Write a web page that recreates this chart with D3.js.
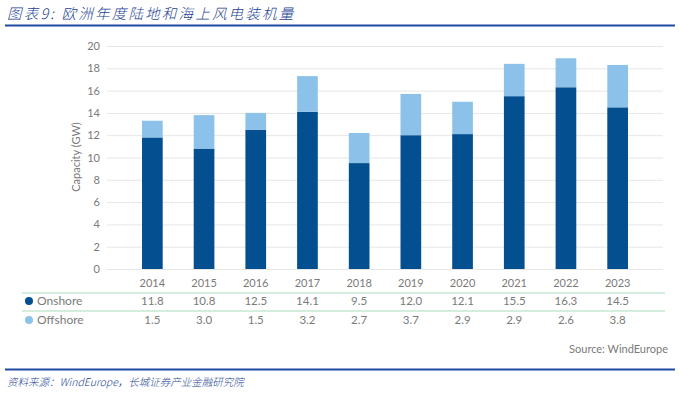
<!DOCTYPE html>
<html>
<head>
<meta charset="utf-8">
<script src="https://cdn.jsdelivr.net/npm/d3@7"></script>
<style>
  body { margin: 0; background: #fff; }
  svg { display: block; }
</style>
</head>
<body>
<svg id="chart" width="679" height="396"></svg>
<script>
// data
var years = ['2014', '2015', '2016', '2017', '2018', '2019', '2020', '2021', '2022', '2023'];
var onshore = [11.8, 10.8, 12.5, 14.1, 9.5, 12.0, 12.1, 15.5, 16.3, 14.5];
var offshore = [1.5, 3.0, 1.5, 3.2, 2.7, 3.7, 2.9, 2.9, 2.6, 3.8];
var yTicks = [0, 2, 4, 6, 8, 10, 12, 14, 16, 18, 20];
var seriesNames = ['Onshore', 'Offshore'];

var darkBlue = '#034f8f', lightBlue = '#8cc2ea', grey = '#7a7a7a', navy = '#1c3f94';
var latin = 'Lato, "Open Sans", sans-serif';

var svg = d3.select('#chart');

// header
svg.append('text')
  .attr('x', 7).attr('y', 19)
  .attr('font-family', '"Noto Sans CJK SC", sans-serif')
  .attr('font-style', 'italic')
  .attr('font-weight', 300)
  .attr('font-size', 14.5)
  .attr('letter-spacing', 2.2)
  .attr('fill', navy)
  .text('图表9:  欧洲年度陆地和海上风电装机量');
svg.append('line')
  .attr('x1', 5).attr('x2', 675).attr('y1', 25.5).attr('y2', 25.5)
  .attr('stroke', '#1e4ba0').attr('stroke-width', 2);

var x = d3.scaleBand().domain(years).range([111, 659]).padding(0.6);
var y = d3.scaleLinear().domain([0, 20]).range([269, 46]);

// grid + y axis
var yAxis = svg.append('g')
  .attr('transform', 'translate(107,0)')
  .call(d3.axisLeft(y).tickValues(yTicks).tickSize(-556).tickPadding(7));
yAxis.select('.domain').remove();
yAxis.selectAll('.tick line').attr('stroke', '#e6e6e6');
yAxis.selectAll('.tick text')
  .attr('font-family', latin).attr('font-size', 11).attr('fill', grey);

svg.append('text')
  .attr('transform', 'translate(80,157) rotate(-90)')
  .attr('text-anchor', 'middle')
  .attr('font-family', latin).attr('font-size', 11).attr('fill', grey)
  .text('Capacity (GW)');

// stacked bars
var rows = years.map(function(yr, i) { return { year: yr, Onshore: onshore[i], Offshore: offshore[i] }; });
var stack = d3.stack().keys(seriesNames)(rows);
var colors = d3.scaleOrdinal().domain(seriesNames).range([darkBlue, lightBlue]);

svg.append('g').selectAll('g')
  .data(stack).enter().append('g')
  .attr('fill', function(d) { return colors(d.key); })
  .selectAll('rect')
  .data(function(d) { return d; }).enter().append('rect')
  .attr('x', function(d) { return x(d.data.year); })
  .attr('y', function(d) { return y(d[1]); })
  .attr('width', x.bandwidth())
  .attr('height', function(d) { return y(d[0]) - y(d[1]); });

// year labels
svg.append('g').selectAll('text')
  .data(years).enter().append('text')
  .attr('x', function(d) { return x(d) + x.bandwidth() / 2; })
  .attr('y', 287)
  .attr('text-anchor', 'middle')
  .attr('font-family', latin).attr('font-size', 11).attr('fill', grey)
  .text(function(d) { return d; });

// data table
[293, 311].forEach(function(ly) {
  svg.append('line')
    .attr('x1', 22).attr('x2', 665).attr('y1', ly).attr('y2', ly)
    .attr('stroke', '#a9dcb9').attr('stroke-width', 1.2);
});

var tableRows = [
  { name: 'Onshore', vals: onshore, color: darkBlue, y: 305 },
  { name: 'Offshore', vals: offshore, color: lightBlue, y: 324 }
];
tableRows.forEach(function(r) {
  svg.append('circle').attr('cx', 29).attr('cy', r.y - 4).attr('r', 4).attr('fill', r.color);
  svg.append('text')
    .attr('x', 37).attr('y', r.y)
    .attr('font-family', latin).attr('font-size', 12).attr('fill', grey)
    .text(r.name);
  svg.append('g').selectAll('text')
    .data(r.vals).enter().append('text')
    .attr('x', function(d, i) { return x(years[i]) + x.bandwidth() / 2; })
    .attr('y', r.y)
    .attr('text-anchor', 'middle')
    .attr('font-family', latin).attr('font-size', 11.5).attr('fill', grey)
    .text(function(d) { return d.toFixed(1); });
});

svg.append('text')
  .attr('x', 668).attr('y', 353)
  .attr('text-anchor', 'end')
  .attr('font-family', latin).attr('font-size', 11).attr('fill', grey)
  .text('Source: WindEurope');

// footer
svg.append('line')
  .attr('x1', 5).attr('x2', 675).attr('y1', 369.5).attr('y2', 369.5)
  .attr('stroke', '#1e4ba0').attr('stroke-width', 2);
svg.append('text')
  .attr('x', 7).attr('y', 386)
  .attr('font-family', '"Noto Sans CJK SC", sans-serif')
  .attr('font-style', 'italic')
  .attr('font-weight', 300)
  .attr('font-size', 10.5)
  .attr('fill', navy)
  .text('资料来源：WindEurope，长城证券产业金融研究院');
</script>
</body>
</html>
